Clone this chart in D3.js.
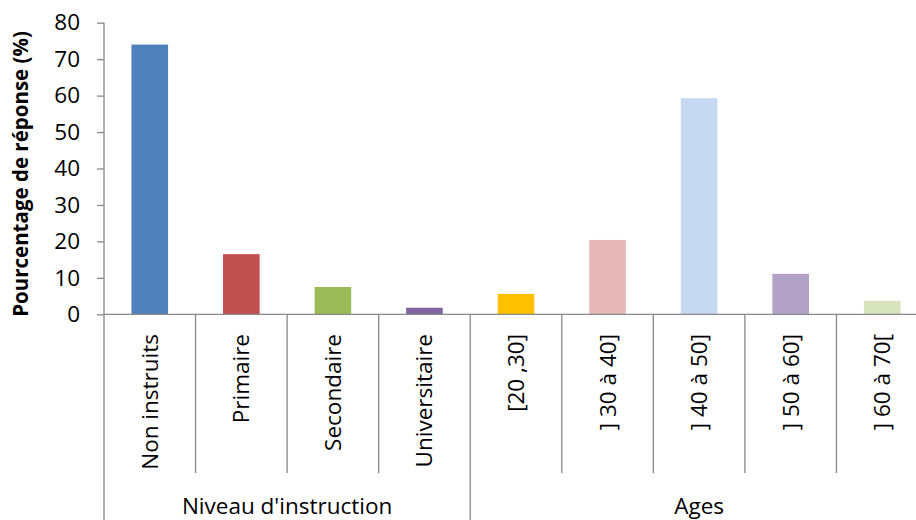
<!DOCTYPE html>
<html>
<head>
<meta charset="utf-8">
<script src="https://cdn.jsdelivr.net/npm/d3@7"></script>
<style>
  body { margin: 0; background: #fff; }
  text { font-family: "Open Sans", sans-serif; fill: #000; }
</style>
</head>
<body>
<script>
// categories and values
const categories = ["Non instruits", "Primaire", "Secondaire", "Universitaire",
  "[20 ,30]", "] 30 à 40]", "] 40 à 50]", "] 50 à 60]", "] 60 à 70["];
const values = [74, 16.5, 7.5, 1.8, 5.6, 20.4, 59.3, 11.1, 3.7];
const colors = ["#4F81BD", "#C0504D", "#9BBB59", "#8064A2",
  "#FFC000", "#E6B9B8", "#C6D9F1", "#B3A2C7", "#D7E4BD"];
const groupNames = ["Niveau d'instruction", "Ages"];
const groupSizes = [4, 5];
const yTicks = [0, 10, 20, 30, 40, 50, 60, 70, 80];

var width = 916, height = 520;
// plot runs past the right edge, like the original
var plotLeft = 104, plotRight = 928, plotTop = 22.7, plotBottom = 314.3;
var fontSize = "22.5px";

var svg = d3.select("body").append("svg")
    .attr("width", width)
    .attr("height", height);

var x = d3.scaleBand()
    .domain(categories)
    .range([plotLeft, plotRight])
    .padding(0);

var y = d3.scaleLinear()
    .domain([0, 80])
    .range([plotBottom, plotTop]);

var axisColor = "#898989";

// bars
svg.selectAll("rect.bar")
    .data(values)
    .enter().append("rect")
    .attr("class", "bar")
    .attr("x", function (d, i) { return x(categories[i]) + x.bandwidth() * 0.3; })
    .attr("width", x.bandwidth() * 0.4)
    .attr("y", function (d) { return y(d); })
    .attr("height", function (d) { return y(0) - y(d); })
    .attr("fill", function (d, i) { return colors[i]; });

// y axis
var yAxis = svg.append("g")
    .attr("transform", "translate(" + plotLeft + ",0)")
    .call(d3.axisLeft(y).tickValues(yTicks).tickSize(7).tickPadding(17));
yAxis.selectAll("path, line").attr("stroke", axisColor).attr("stroke-width", 1.3);
yAxis.select(".domain").attr("d", "M0," + plotTop + "V" + plotBottom);
yAxis.selectAll("text")
    .style("font-family", "Open Sans, sans-serif")
    .style("font-size", fontSize)
    .attr("fill", "#000");

// x axis line
svg.append("line")
    .attr("x1", plotLeft).attr("x2", plotRight)
    .attr("y1", y(0)).attr("y2", y(0))
    .attr("stroke", axisColor).attr("stroke-width", 1.3);

// category separators: inner ones short, group borders reach the bottom
var groupStarts = [0];
groupSizes.forEach(function (n, i) { groupStarts.push(groupStarts[i] + n); });
var edges = d3.range(categories.length + 1);
function edgeX(i) { return i < categories.length ? x(categories[i]) : plotRight; }
svg.selectAll("line.sep")
    .data(edges)
    .enter().append("line")
    .attr("class", "sep")
    .attr("x1", edgeX)
    .attr("x2", edgeX)
    .attr("y1", y(0))
    .attr("y2", function (i) { return groupStarts.indexOf(i) >= 0 ? height : 473; })
    .attr("stroke", axisColor).attr("stroke-width", 1.3);

// rotated category labels
svg.selectAll("text.cat")
    .data(categories)
    .enter().append("text")
    .attr("class", "cat")
    .attr("transform", function (d) {
        return "translate(" + (x(d) + x.bandwidth() / 2 + 8) + ",334) rotate(-90)";
    })
    .attr("text-anchor", "end")
    .style("font-size", fontSize)
    .text(function (d) { return d; });

// group labels
svg.selectAll("text.group")
    .data(groupNames)
    .enter().append("text")
    .attr("class", "group")
    .attr("x", function (d, i) { return (edgeX(groupStarts[i]) + edgeX(groupStarts[i + 1])) / 2; })
    .attr("y", 514)
    .attr("text-anchor", "middle")
    .style("font-size", fontSize)
    .text(function (d) { return d; });

// y axis title
svg.append("text")
    .attr("transform", "translate(28,174) rotate(-90)")
    .attr("text-anchor", "middle")
    .style("font-size", "20.5px")
    .style("font-weight", "bold")
    .text("Pourcentage de réponse (%)");
</script>
</body>
</html>
